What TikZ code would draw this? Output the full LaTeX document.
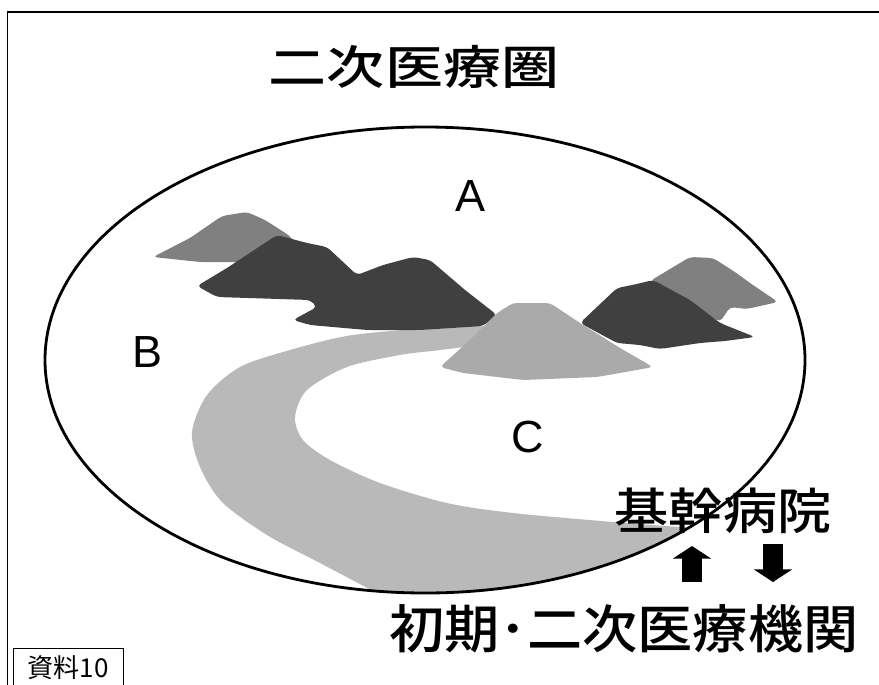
\documentclass[tikz,border=0pt]{standalone}
\usepackage{fontspec}
\usepackage{graphicx}
\setsansfont{Liberation Sans}
\newfontfamily\jpfont{Noto Sans CJK JP}[BoldFont={Noto Sans CJK JP Medium}]
\usetikzlibrary{arrows.meta}
\definecolor{HillDark}{HTML}{404040}
\definecolor{HillMid}{HTML}{808080}
\definecolor{HillLight}{HTML}{AAAAAA}
\definecolor{RiverGray}{HTML}{B9B9B9}
\tikzset{
  hill/.style={rounded corners=3pt},
  area/.style={font=\sffamily\fontsize{32}{32}\selectfont, inner sep=0pt},
  jplabel/.style={font=\jpfont\bfseries\fontsize{#1}{#1}\selectfont, inner sep=0pt},
  flow/.style={line width=14pt, -{Triangle[width=27pt, length=9pt]}},
}

\begin{document}
\begin{tikzpicture}[x=0.025cm, y=-0.025cm]
  \useasboundingbox (0,0) rectangle (879,684);
  % Frame
  \draw[line width=1pt] (7.5,700) -- (7.5,12) -- (900,12);
  % River, cut off by the region outline
  \begin{scope}
    \clip (425,360) ellipse [x radius=380, y radius=233];
    \fill[RiverGray] plot[smooth] coordinates {(520,326) (447,327) (353,335) (290,350) (240,367) (207,395) (192,432) (200,467) (222,502) (267,535) (320,563) (375,592)}
      -- (400,640) -- (800,640) -- (800,528)
      -- plot[smooth] coordinates {(680,527) (613,522) (513,513) (447,503) (380,483) (330,460) (303,440) (295,417) (307,390) (347,367) (400,355) (440,350) (520,340)} -- cycle;
  \end{scope}
  % Hills, back row
  \fill[HillMid, hill] (153,257) -- (190,238) -- (222,216) -- (247,212) -- (265,220) -- (290,236) -- (300,250) -- (260,262) -- (200,262) -- cycle;
  \fill[HillMid, hill] (650,281) -- (690,257) -- (713,258) -- (735,272) -- (750,283) -- (778,302) -- (760,306) -- (747,309) -- (730,307) -- (720,322) -- cycle;
  % Hills, dark row
  \fill[HillDark, hill] (197,286) -- (227,268) -- (277,235) -- (307,243) -- (327,247) -- (357,275) -- (383,265) -- (413,257) -- (430,260) -- (465,290) -- (497,315)
    -- (483,326) -- (420,330) -- (367,330) -- (310,325) -- (293,320) -- (317,307) -- (310,300) -- (217,297) -- cycle;
  \fill[HillDark, hill] (580,323) -- (617,288) -- (637,284) -- (653,280) -- (690,300) -- (720,323) -- (755,337) -- (725,341) -- (700,343) -- (660,349) -- (640,345) -- (617,343) -- cycle;
  % Hill in front
  \fill[HillLight, hill] (440,367) -- (470,340) -- (497,313) -- (513,303) -- (550,303) -- (580,323) -- (620,348) -- (653,367) -- (620,373) -- (597,377) -- (523,380) -- (463,373) -- cycle;
  % Region outline
  \draw[line width=2pt] (425,360) ellipse [x radius=380, y radius=233];
  % Labels
  \node[jplabel=33] (title) at (414,67) {\scalebox{1.25}[1]{二次医療圏}};
  \node[area] (areaA) at (470,196) {A};
  \node[area] (areaB) at (148,352) {B};
  \node[area] (areaC) at (528,437) {C};
  \node[jplabel=35] (kikan) at (723,511) {\scalebox{1.1}[1]{基幹病院}};
  \node[jplabel=37] (shoki) at (624,629) {\scalebox{1.06}[1]{初期･二次医療機関}};
  % Referral arrows
  \coordinate (upfoot) at (692,582);
  \coordinate (uptip) at (692,546);
  \coordinate (downfoot) at (773,544);
  \coordinate (downtip) at (773,582);
  \draw[flow] (upfoot) -- (uptip);
  \draw[flow] (downfoot) -- (downtip);
  % Source tag
  \node[draw, line width=0.6pt, minimum width=2.75cm, minimum height=1.2cm] (tag) at (68,672) {};
  \node[font=\jpfont\fontsize{18.5}{18.5}\selectfont, inner sep=0pt] (tagtext) at (68,668) {資料10};
\end{tikzpicture}
\end{document}
